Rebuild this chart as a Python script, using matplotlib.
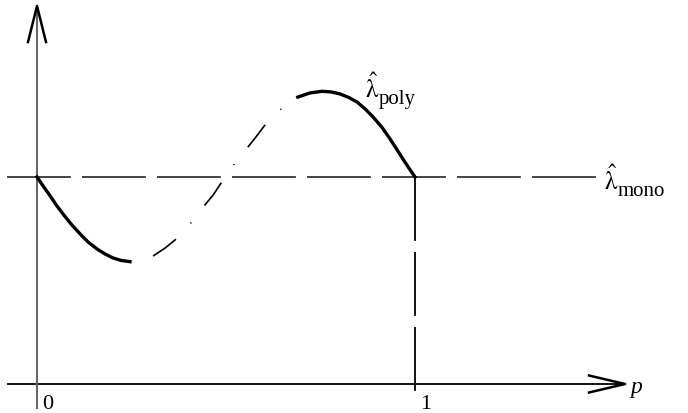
import numpy as np
import matplotlib
matplotlib.use("Agg")
import matplotlib.pyplot as plt

plt.rcParams['font.family'] = ['Liberation Serif', 'DejaVu Serif']
plt.rcParams['mathtext.fontset'] = 'stix'
plt.rcParams['lines.scale_dashes'] = False

p_curve = [0.0, 0.016, 0.034, 0.050, 0.069, 0.090, 0.114, 0.135, 0.159,
           0.180, 0.201, 0.222, 0.246, 0.272, 0.307, 0.339, 0.368, 0.407,
           0.442, 0.466, 0.487, 0.519, 0.556, 0.579, 0.601, 0.643, 0.667,
           0.690, 0.722, 0.754, 0.778, 0.802, 0.825, 0.847, 0.868, 0.889,
           0.913, 0.934, 0.952, 0.968, 0.984, 1.0]
lam_curve = [1.0, 0.957, 0.911, 0.867, 0.821, 0.773, 0.725, 0.686, 0.652,
             0.628, 0.609, 0.597, 0.591, 0.587, 0.618, 0.657, 0.700, 0.778,
             0.860, 0.913, 0.971, 1.056, 1.140, 1.193, 1.246, 1.324, 1.357,
             1.386, 1.406, 1.414, 1.411, 1.401, 1.384, 1.362, 1.329, 1.290,
             1.239, 1.184, 1.133, 1.087, 1.043, 1.0]
lam_mono = 1.0
p_one = 1.0

p_curve = np.array(p_curve)
lam_curve = np.array(lam_curve)

fig = plt.figure(figsize=(6.88, 4.14), dpi=100)
ax = fig.add_axes([0, 0, 1, 1])
ax.set_xlim(-37 / 378, 651 / 378)
ax.set_ylim(-29 / 207, 385 / 207)
ax.axis('off')

# axes with open arrow heads
x_tip, y_tip = 1.5556, 1.826
ax.plot([-0.08, x_tip], [0, 0], color='black', lw=1.3, solid_capstyle='butt')
ax.plot([0, 0], [-0.121, y_tip], color='#666666', lw=1.5, solid_capstyle='butt')
ax.plot([x_tip - 36 / 378, x_tip, x_tip - 36 / 378], [8.5 / 207, 0, -8.5 / 207],
        color='black', lw=1.8)
ax.plot([-9 / 378, 0, 9 / 378], [y_tip - 36 / 207, y_tip, y_tip - 36 / 207],
        color='black', lw=1.8)

# lambda_mono reference and p = 1 marker
ax.plot([-0.08, 1.485], [lam_mono, lam_mono], color='#444444', lw=1.4,
        linestyle=(0, (46, 8)))
ax.plot([p_one, p_one], [lam_mono, -0.045], color='black', lw=1.3,
        linestyle=(0, (46, 8)))

# solid parts and dash-dot middle of the curve
lo = p_curve <= 0.247
mid = (p_curve >= 0.306) & (p_curve <= 0.691)
hi = p_curve >= 0.689
ax.plot(p_curve[lo], lam_curve[lo], color='black', lw=2.4)
ax.plot(p_curve[hi], lam_curve[hi], color='black', lw=2.4)
ax.plot(p_curve[mid], lam_curve[mid], color='black', lw=1.2,
        linestyle=(0, (20.5, 15.5, 0.8, 15.5)))

ax.text(0.013, -0.05, '0', fontsize=16, ha='left', va='top')
ax.text(1.013, -0.05, '1', fontsize=16, ha='left', va='top')
ax.text(1.569, -0.039, 'p', fontsize=17, style='italic', ha='left', va='baseline')


def hat_label(x, y, sub):
    ax.text(x, y, r'$\hat{\mathrm{\lambda}}$', fontsize=18, ha='left', va='baseline')
    ax.annotate(sub, (x, y), xytext=(10, -4), textcoords='offset points',
                fontsize=15, ha='left', va='baseline')


hat_label(0.868, 1.386, 'poly')
hat_label(1.50, 0.942, 'mono')

fig.savefig('out.png', dpi=100)
